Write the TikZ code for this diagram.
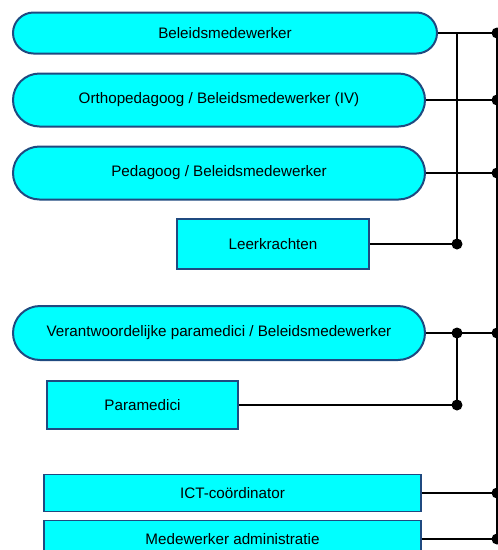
\documentclass[tikz,border=0pt]{standalone}
\usepackage{fontspec}
\setmainfont{Liberation Sans}
\usetikzlibrary{shapes.misc}

\definecolor{boxfill}{HTML}{00FFFF}
\definecolor{boxline}{HTML}{1F4A80}

\begin{document}
\begin{tikzpicture}[x=1pt, y=-1pt,
    pill/.style={rounded rectangle, draw=boxline, line width=2pt, fill=boxfill,
        minimum height=#1, inner sep=0pt, font=\fontsize{15.2}{17}\selectfont},
    pill/.default=53pt,
    tile/.style={rectangle, draw=boxline, line width=1.5pt, fill=boxfill,
        inner sep=0pt, font=\fontsize{15.2}{17}\selectfont},
    wire/.style={line width=1.8pt},
    dot/.style={circle, fill=black, inner sep=0pt, minimum size=11pt}]
    \useasboundingbox (0,0) rectangle (498,550);
    \clip (0,0) rectangle (498,550);

    % right bus and the inner bus of the upper group
    \coordinate (bus) at (497,0);
    \coordinate (inner) at (457,0);

    \node[pill=41pt, minimum width=424pt] (beleid) at (225,33) {Beleidsmedewerker};
    \node[pill, minimum width=412pt] (ortho) at (219,100) {Orthopedagoog / Beleidsmedewerker (IV)};
    \node[pill, minimum width=412pt] (peda) at (219,173) {Pedagoog / Beleidsmedewerker};
    \node[tile, minimum width=192pt, minimum height=50pt] (leer) at (273,244) {Leerkrachten};

    \node[pill=54pt, minimum width=412pt] (verant) at (219,333) {Verantwoordelijke paramedici / Beleidsmedewerker};
    \node[tile, minimum width=191pt, minimum height=48pt] (para) at (142.5,405) {Paramedici};

    \node[tile, minimum width=377pt, minimum height=37pt] (ict) at (232.5,493) {ICT-coördinator};
    \node[tile, minimum width=377pt, minimum height=37pt] (admin) at (232.5,539) {Medewerker administratie};

    % connectors
    \draw[wire] (beleid.east -| bus) -- (admin.east -| bus);
    \foreach \n in {beleid, ortho, peda, verant, ict, admin} {
        \draw[wire] (\n.east) -- (\n.east -| bus);
        \node[dot] at (\n.east -| bus) {};
    }
    \draw[wire] (beleid.east -| inner) -- (leer.east -| inner) -- (leer.east);
    \node[dot] at (leer.east -| inner) {};

    \draw[wire] (verant.east -| inner) -- (para.east -| inner) -- (para.east);
    \node[dot] at (verant.east -| inner) {};
    \node[dot] at (para.east -| inner) {};
\end{tikzpicture}
\end{document}
